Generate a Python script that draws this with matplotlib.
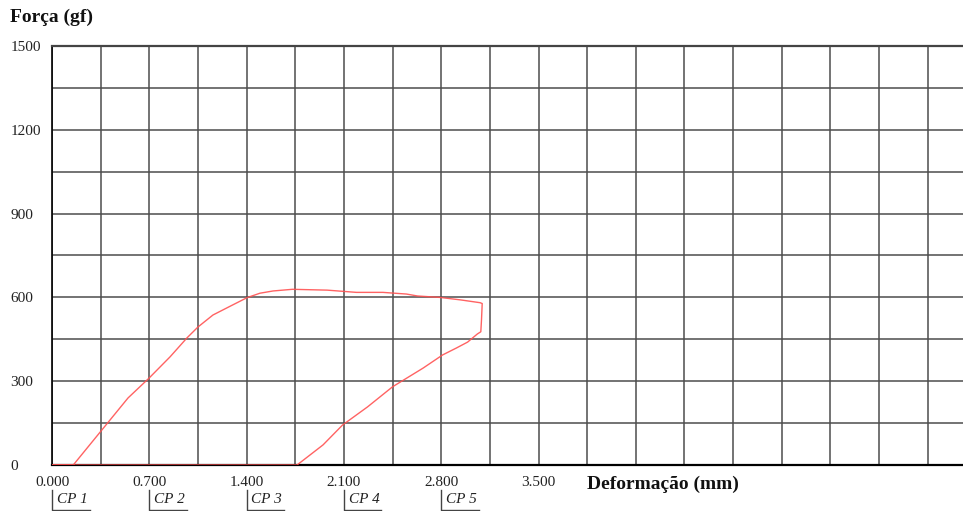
import numpy as np
import matplotlib
matplotlib.use("Agg")
import matplotlib.pyplot as plt
import matplotlib.transforms as mtransforms
from matplotlib.ticker import FixedLocator, FuncFormatter

plt.rcParams['font.family'] = ['Liberation Serif', 'DejaVu Serif']

# Curva força x deformação (ida e volta)
deformacao = [0.000, 0.153, 0.345, 0.547, 0.698, 0.849, 0.971, 1.050, 1.158, 1.280,
              1.403, 1.496, 1.590, 1.730, 1.980, 2.190, 2.380, 2.550, 2.630,
              2.790, 2.940, 3.080, 3.095, 3.090, 3.085, 3.060, 2.990, 2.910, 2.810,
              2.670, 2.450, 2.270, 2.090, 1.950, 1.763, 0.000]
forca = [0, 0, 117, 240, 311, 387, 455, 494, 537, 568,
         599, 615, 623, 629, 626, 618, 618, 612, 605,
         600, 591, 581, 578, 520, 477, 469, 440, 419, 394,
         347, 280, 208, 143, 72, 0, 0]

# Corpos de prova
cp_labels = ["CP 1", "CP 2", "CP 3", "CP 4", "CP 5"]
cp_pos = [0.0, 0.7, 1.4, 2.1, 2.8]

x_grid = np.arange(0, 7.01, 0.35)
x_labeled = [0.0, 0.7, 1.4, 2.1, 2.8, 3.5]
y_ticks = [0, 300, 600, 900, 1200, 1500]
y_grid = np.arange(0, 1501, 150)

fig = plt.figure(figsize=(9.63, 5.11), dpi=100)
ax = fig.add_axes([52 / 963, 46 / 511, 973 / 963, 419 / 511])

ax.plot(deformacao, forca, color='#ff5252', lw=1.0, alpha=0.9, zorder=3)

ax.set_xlim(0, 7.0)
ax.set_ylim(0, 1500)

ax.xaxis.set_major_locator(FixedLocator(x_grid))
ax.xaxis.set_major_formatter(FuncFormatter(
    lambda v, p: "%.3f" % v if any(abs(v - t) < 1e-6 for t in x_labeled) else ""))
ax.yaxis.set_major_locator(FixedLocator(y_grid))
ax.yaxis.set_major_formatter(FuncFormatter(
    lambda v, p: "%d" % v if int(round(v)) in y_ticks else ""))

ax.grid(True, color='#4d4d4d', lw=1.1)
ax.set_axisbelow(True)
ax.tick_params(axis='both', length=0, labelsize=11, colors='#222222')
ax.tick_params(axis='x', pad=8)
ax.tick_params(axis='y', pad=30)
for lab in ax.get_yticklabels():
    lab.set_horizontalalignment('left')

ax.spines['right'].set_visible(False)
ax.spines['top'].set_color('#444444')
ax.spines['top'].set_linewidth(1.6)
ax.spines['bottom'].set_color('black')
ax.spines['bottom'].set_linewidth(1.6)
ax.spines['left'].set_color('black')
ax.spines['left'].set_linewidth(1.2)

fig.text(10 / 963, 1 - 17 / 511, "Força (gf)", fontsize=14, fontweight='bold',
         ha='left', va='center', color='#111111')
fig.text(587 / 963, 1 - 484 / 511, "Deformação (mm)", fontsize=14, fontweight='bold',
         ha='left', va='center', color='#111111')

# marcadores dos corpos de prova
trans = mtransforms.blended_transform_factory(ax.transData, ax.transAxes)
for lab, xp in zip(cp_labels, cp_pos):
    ax.plot([xp, xp, xp + 0.27], [-0.06, -0.107, -0.107], color='#444444', lw=1.0,
            transform=trans, clip_on=False)
    ax.text(xp + 0.035, -0.083, lab, transform=trans, fontsize=11, style='italic',
            ha='left', va='center', color='#222222')

fig.savefig("out.png", dpi=100)
